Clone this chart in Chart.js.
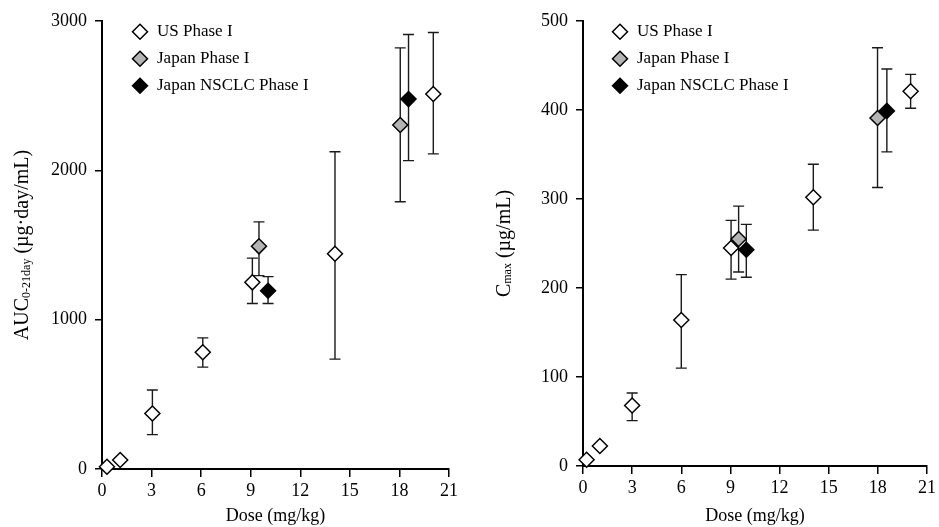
<!DOCTYPE html>
<html>
<head>
<meta charset="utf-8">
<script src="https://cdn.jsdelivr.net/npm/chart.js@4.4.0/dist/chart.umd.min.js"></script>
<style>
  body { margin: 0; background: #fff; }
  #wrap { position: relative; width: 939px; height: 527px; }
  .box { position: absolute; top: 0; height: 527px; }
</style>
</head>
<body>
<div id="wrap">
  <div class="box" style="left:0;width:470px"><canvas id="aucChart"></canvas></div>
  <div class="box" style="left:470px;width:469px"><canvas id="cmaxChart"></canvas></div>
</div>
<script>
// ---- AUC panel (left) ----
const usDoseAuc = [0.3, 1.1, 3.05, 6.1, 9.1, 14.1, 20.05];
const usAuc     = [15, 60, 372, 782, 1250, 1441, 2511];
const usAucLo   = [null, null, 230, 682, 1108, 736, 2110];
const usAucHi   = [null, null, 529, 878, 1412, 2124, 2923];

const jpDoseAuc = [9.5, 18.05];
const jpAuc     = [1491, 2304];
const jpAucLo   = [1295, 1790];
const jpAucHi   = [1655, 2820];

const nsDoseAuc = [10.05, 18.55];
const nsAuc     = [1194, 2477];
const nsAucLo   = [1108, 2065];
const nsAucHi   = [1288, 2910];

// ---- Cmax panel (right) ----
const usDoseCmax = [0.22, 1.03, 3.0, 6.0, 9.04, 14.06, 20.0];
const usCmax     = [7, 22.5, 68, 164, 245, 302, 421];
const usCmaxLo   = [null, null, 51, 110, 210, 265, 402];
const usCmaxHi   = [null, null, 82, 215, 276, 339, 440];

const jpDoseCmax = [9.5, 17.98];
const jpCmax     = [255, 391];
const jpCmaxLo   = [218, 313];
const jpCmaxHi   = [292, 470];

const nsDoseCmax = [9.97, 18.55];
const nsCmax     = [243, 399];
const nsCmaxLo   = [212, 353];
const nsCmaxHi   = [271.5, 446];

const seriesNames = ['US Phase I', 'Japan Phase I', 'Japan NSCLC Phase I'];
const doseTicks = [0, 21, 3];

const serif = '"Liberation Serif", "Times New Roman", serif';

function pts(xs, ys){
    return xs.map((x,i)=>({x:x, y:ys[i]}));
}

// error bars drawn behind the markers
const errorBars = {
    id: 'errorBars',
    beforeDatasetsDraw(chart){
        const ctx = chart.ctx;
        const xs = chart.scales.x, ys = chart.scales.y;
        ctx.save();
        ctx.strokeStyle = '#1a1a1a';
        ctx.lineWidth = 1.4;
        chart.data.datasets.forEach((ds,i)=>{
            if(!chart.isDatasetVisible(i) || !ds.errLow) return;
            ds.data.forEach((p,j)=>{
                if(ds.errLow[j]==null) return;
                const x = xs.getPixelForValue(p.x);
                const y1 = ys.getPixelForValue(ds.errLow[j]);
                const y2 = ys.getPixelForValue(ds.errHigh[j]);
                ctx.beginPath();
                ctx.moveTo(x, y1); ctx.lineTo(x, y2);
                ctx.moveTo(x-5.5, y1); ctx.lineTo(x+5.5, y1);
                ctx.moveTo(x-5.5, y2); ctx.lineTo(x+5.5, y2);
                ctx.stroke();
            });
        });
        ctx.restore();
    }
};

// y title with a subscript part
const yTitle = {
    id: 'yTitle',
    afterDraw(chart, args, opts){
        const ctx = chart.ctx;
        const area = chart.chartArea;
        ctx.save();
        let total = 0;
        opts.parts.forEach(p=>{
            ctx.font = p.size + 'px ' + serif;
            p.w = ctx.measureText(p.text).width;
            total += p.w;
        });
        ctx.translate(opts.x, (area.top + area.bottom)/2);
        ctx.rotate(-Math.PI/2);
        ctx.fillStyle = '#000';
        ctx.textBaseline = 'alphabetic';
        let cx = -total/2;
        opts.parts.forEach(p=>{
            ctx.font = p.size + 'px ' + serif;
            ctx.fillText(p.text, cx, p.sub ? 1.5 : 0);
            cx += p.w;
        });
        ctx.restore();
    }
};

// put the legend inside the plot, top left
const legendPlace = {
    id: 'legendPlace',
    afterLayout(chart, args, opts){
        const lg = chart.legend;
        if(!lg) return;
        const w = lg.width, h = lg.height;
        lg.left = opts.left; lg.top = opts.top;
        lg.right = opts.left + w; lg.bottom = opts.top + h;
    }
};

function makeDatasets(us, usLo, usHi, jp, jpLo, jpHi, ns, nsLo, nsHi){
    const base = {pointStyle:'rectRot', pointRadius:7.5, pointHoverRadius:7.5, borderWidth:1.5, borderColor:'#000', showLine:false, clip:false};
    return [
        Object.assign({}, base, {label:seriesNames[0], data:us, backgroundColor:'#fff', errLow:usLo, errHigh:usHi, order:2}),
        Object.assign({}, base, {label:seriesNames[1], data:jp, backgroundColor:'#b4b4b4', errLow:jpLo, errHigh:jpHi, order:1}),
        Object.assign({}, base, {label:seriesNames[2], data:ns, backgroundColor:'#000', errLow:nsLo, errHigh:nsHi, order:0})
    ];
}

function makeOptions(yMax, yStep, yWidth, xHeight, padRight, legendLeft, titleX, titleParts){
    return {
        responsive:true,
        maintainAspectRatio:false,
        animation:false,
        layout:{padding:{top:21, right:padRight, left:0, bottom:0}},
        scales:{
            x:{
                type:'linear', min:doseTicks[0], max:doseTicks[1],
                afterFit:(s)=>{ s.height = xHeight; },
                border:{color:'#000', width:2},
                grid:{drawOnChartArea:false, tickLength:8, color:'#000', lineWidth:1.5},
                ticks:{stepSize:doseTicks[2], color:'#000', font:{family:serif, size:18}, padding:3, maxRotation:0,
                       callback:(v)=>String(v)},
                title:{display:true, text:'Dose (mg/kg)', color:'#000', font:{family:serif, size:18}, padding:0}
            },
            y:{
                type:'linear', min:0, max:yMax,
                afterFit:(s)=>{ s.width = yWidth; },
                border:{color:'#000', width:2},
                grid:{drawOnChartArea:false, tickLength:7, color:'#000', lineWidth:1.5},
                ticks:{stepSize:yStep, color:'#000', font:{family:serif, size:18}, padding:8,
                       callback:(v)=>String(v)}
            }
        },
        plugins:{
            legend:{
                position:'chartArea',
                align:'start',
                labels:{
                    usePointStyle:true, boxHeight:10.6, color:'#000', padding:10,
                    font:{family:serif, size:17},
                    sort:(a,b)=>a.datasetIndex-b.datasetIndex
                }
            },
            legendPlace:{left:legendLeft, top:13.2},
            yTitle:{x:titleX, parts:titleParts},
            tooltip:{enabled:false}
        }
    };
}

new Chart(document.getElementById('aucChart'), {
    type:'scatter',
    data:{datasets:makeDatasets(
        pts(usDoseAuc, usAuc), usAucLo, usAucHi,
        pts(jpDoseAuc, jpAuc), jpAucLo, jpAucHi,
        pts(nsDoseAuc, nsAuc), nsAucLo, nsAucHi)},
    options:makeOptions(3000, 1000, 102, 58, 21, 121.5, 28, [
        {text:'AUC', size:20},
        {text:'0-21day', size:12, sub:true},
        {text:' (\u00b5g\u00b7day/mL)', size:20}
    ]),
    plugins:[errorBars, yTitle, legendPlace]
});

new Chart(document.getElementById('cmaxChart'), {
    type:'scatter',
    data:{datasets:makeDatasets(
        pts(usDoseCmax, usCmax), usCmaxLo, usCmaxHi,
        pts(jpDoseCmax, jpCmax), jpCmaxLo, jpCmaxHi,
        pts(nsDoseCmax, nsCmax), nsCmaxLo, nsCmaxHi)},
    options:makeOptions(500, 100, 113, 61, 10, 131.5, 39.5, [
        {text:'C', size:20},
        {text:'max', size:12, sub:true},
        {text:' (\u00b5g/mL)', size:20}
    ]),
    plugins:[errorBars, yTitle, legendPlace]
});
</script>
</body>
</html>
